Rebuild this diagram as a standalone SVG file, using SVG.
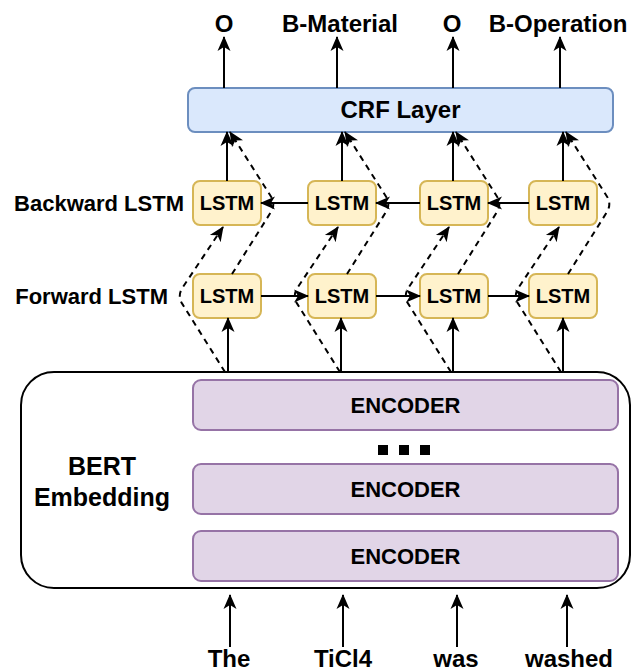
<svg xmlns="http://www.w3.org/2000/svg" width="632" height="671" viewBox="0 0 632 671">
<style>
text{font-family:"Liberation Sans",Arial,Helvetica,sans-serif;font-weight:bold;fill:#000}
.lstm{fill:#fff2cc;stroke:#d6b656;stroke-width:2}
.enc{fill:#e1d5e7;stroke:#9673a6;stroke-width:2}
.crf{fill:#dae8fc;stroke:#6c8ebf;stroke-width:2}
.bert{fill:#ffffff;stroke:#000;stroke-width:2}
.c{fill:none;stroke:#000;stroke-width:2;marker-end:url(#ah)}
.d{fill:none;stroke:#000;stroke-width:2;stroke-dasharray:6 5;marker-end:url(#ah)}
.lt{font-size:20px;text-anchor:middle}
.et{font-size:22px;text-anchor:middle}
.wt{font-size:24px;text-anchor:middle}
.rl{font-size:22px;text-anchor:end}
</style>
<defs>
<marker id="ah" markerUnits="userSpaceOnUse" markerWidth="15" markerHeight="15" refX="14" refY="7.5" orient="auto">
<path d="M0,1 L15,7.5 L0,14 L4,7.5 z" fill="#000" stroke="none"/>
</marker>
</defs>

<g id="bert">
<rect class="bert" x="21" y="372" width="609" height="216" rx="33" ry="33"/>
<text x="102" y="475" style="font-size:25px;text-anchor:middle">BERT</text>
<text x="102" y="506" style="font-size:25px;text-anchor:middle">Embedding</text>
</g>
<g id="encoder1"><rect class="enc" x="193" y="380" width="425" height="50" rx="8"/><text class="et" x="405.5" y="413">ENCODER</text></g>
<g id="ellipsis" fill="#000"><rect x="378" y="445" width="10" height="10"/><rect x="399" y="445" width="10" height="10"/><rect x="420" y="445" width="10" height="10"/></g>
<g id="encoder2"><rect class="enc" x="193" y="464" width="425" height="50" rx="8"/><text class="et" x="405.5" y="497">ENCODER</text></g>
<g id="encoder3"><rect class="enc" x="193" y="531" width="425" height="50" rx="8"/><text class="et" x="405.5" y="564">ENCODER</text></g>

<g id="crf"><rect class="crf" x="188" y="88" width="425" height="44" rx="7"/><text x="400.5" y="118" style="font-size:24px;text-anchor:middle">CRF Layer</text></g>

<g id="label-backward"><text class="rl" x="184" y="211">Backward LSTM</text></g>
<g id="label-forward"><text class="rl" x="168" y="304">Forward LSTM</text></g>

<g id="bw1"><rect class="lstm" x="193" y="181" width="68" height="44" rx="7"/><text class="lt" x="227" y="210">LSTM</text></g>
<g id="bw2"><rect class="lstm" x="308" y="181" width="68" height="44" rx="7"/><text class="lt" x="342" y="210">LSTM</text></g>
<g id="bw3"><rect class="lstm" x="420" y="181" width="68" height="44" rx="7"/><text class="lt" x="454" y="210">LSTM</text></g>
<g id="bw4"><rect class="lstm" x="529" y="181" width="68" height="44" rx="7"/><text class="lt" x="563" y="210">LSTM</text></g>

<g id="fw1"><rect class="lstm" x="193" y="274" width="68" height="44" rx="7"/><text class="lt" x="227" y="303">LSTM</text></g>
<g id="fw2"><rect class="lstm" x="308" y="274" width="68" height="44" rx="7"/><text class="lt" x="342" y="303">LSTM</text></g>
<g id="fw3"><rect class="lstm" x="420" y="274" width="68" height="44" rx="7"/><text class="lt" x="454" y="303">LSTM</text></g>
<g id="fw4"><rect class="lstm" x="529" y="274" width="68" height="44" rx="7"/><text class="lt" x="563" y="303">LSTM</text></g>

<g id="outputs">
<text class="wt" x="224" y="32">O</text>
<text class="wt" x="340" y="32">B-Material</text>
<text class="wt" x="452" y="32">O</text>
<text class="wt" x="558" y="32">B-Operation</text>
</g>
<g id="inputs">
<text class="wt" x="229" y="667">The</text>
<text class="wt" x="343" y="667">TiCl4</text>
<text class="wt" x="456" y="667">was</text>
<text class="wt" x="569" y="667">washed</text>
</g>

<g id="connectors">
<path class="c" d="M224,88 V37"/>
<path class="c" d="M337,88 V37"/>
<path class="c" d="M453,88 V37"/>
<path class="c" d="M560,88 V37"/>
<path class="c" d="M227,181 V132"/>
<path class="c" d="M342,181 V132"/>
<path class="c" d="M453,181 V132"/>
<path class="c" d="M563,181 V132"/>
<path class="c" d="M228,372 V318"/>
<path class="c" d="M341,372 V318"/>
<path class="c" d="M453,372 V318"/>
<path class="c" d="M563,372 V318"/>
<path class="c" d="M230,647 V595"/>
<path class="c" d="M343,647 V595"/>
<path class="c" d="M457,647 V595"/>
<path class="c" d="M567,647 V595"/>
<path class="c" d="M261,296 H308"/>
<path class="c" d="M376,296 H420"/>
<path class="c" d="M488,296 H529"/>
<path class="c" d="M529,203 H488"/>
<path class="c" d="M420,203 H376"/>
<path class="c" d="M308,203 H261"/>
<path class="d" d="M225,372 L182.6,304.4 Q177,296 182.5,287.7 L223,227"/>
<path class="d" d="M340,372 L297.6,304.4 Q292,296 297.5,287.7 L338,227"/>
<path class="d" d="M451,372 L408.6,304.4 Q403,296 408.5,287.7 L449,227"/>
<path class="d" d="M561,372 L518.6,304.4 Q513,296 518.5,287.7 L559,227"/>
<path class="d" d="M232,274 L270.7,212.4 Q276,204 270.5,195.7 L230,132"/>
<path class="d" d="M347,274 L385.7,212.4 Q391,204 385.5,195.7 L345,132"/>
<path class="d" d="M458,274 L496.7,212.4 Q502,204 496.5,195.7 L456,132"/>
<path class="d" d="M568,274 L606.7,212.4 Q612,204 606.5,195.7 L566,132"/>
</g>
</svg>
